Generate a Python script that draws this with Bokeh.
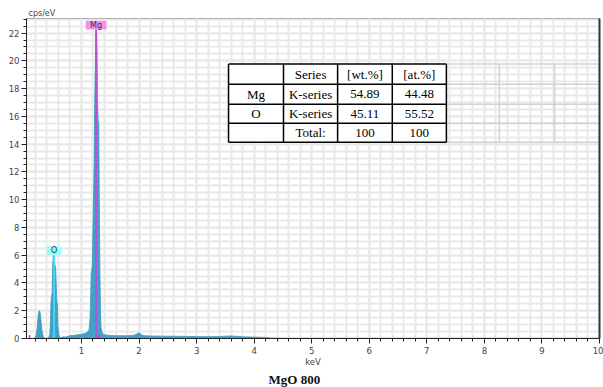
from bokeh.plotting import figure
from bokeh.models import Range1d, SingleIntervalTicker, FixedTicker, LinearAxis, Title, ColumnDataSource
from bokeh.core.properties import value
from bokeh.embed import file_html
from bokeh.resources import INLINE

# ---- data ----
energy_kev = [0.05, 0.10, 0.15, 0.19, 0.21, 0.23, 0.24, 0.25, 0.26, 0.27, 0.28, 0.29, 0.30, 0.31,
              0.32, 0.34, 0.36, 0.40, 0.43, 0.45, 0.46, 0.47, 0.48, 0.49, 0.50, 0.51, 0.52, 0.53,
              0.54, 0.55, 0.56, 0.57, 0.58, 0.59, 0.60, 0.62, 0.64, 0.68, 0.72, 0.76, 0.80, 0.85,
              0.90, 0.95, 1.00, 1.05, 1.10, 1.13, 1.14, 1.15, 1.16, 1.17, 1.18, 1.19, 1.20, 1.21,
              1.22, 1.23, 1.24, 1.25, 1.26, 1.27, 1.28, 1.29, 1.30, 1.31, 1.32, 1.33, 1.34, 1.36,
              1.38, 1.42, 1.50, 1.60, 1.70, 1.80, 1.90, 1.95, 1.98, 2.00, 2.02, 2.05, 2.10, 2.20,
              2.40, 2.60, 2.80, 3.00, 3.20, 3.40, 3.50, 3.60, 3.70, 3.80, 4.00, 4.20, 4.30, 4.50,
              5.00, 6.00, 7.00, 8.00, 9.00, 10.0]
cps_per_ev = [0.0, 0.0, 0.0, 0.02, 0.2, 0.7, 1.2, 1.7, 1.95, 2.0, 1.9, 1.6, 1.1, 0.7,
              0.4, 0.1, 0.03, 0.02, 0.05, 0.3, 1.0, 2.5, 3.1, 3.2, 5.3, 5.9, 6.0, 5.6,
              5.2, 5.2, 4.0, 2.7, 2.5, 1.0, 0.4, 0.1, 0.05, 0.12, 0.1, 0.15, 0.2, 0.22,
              0.25, 0.28, 0.3, 0.35, 0.45, 0.6, 0.9, 1.5, 3.0, 4.8, 4.9, 5.5, 8.0, 10.3,
              12.5, 17.2, 19.5, 22.3, 22.2, 21.0, 17.0, 15.7, 15.5, 10.0, 5.0, 2.0, 0.8, 0.4,
              0.3, 0.25, 0.22, 0.2, 0.2, 0.2, 0.22, 0.3, 0.38, 0.42, 0.35, 0.25, 0.2, 0.18,
              0.17, 0.16, 0.15, 0.14, 0.13, 0.14, 0.17, 0.18, 0.16, 0.12, 0.1, 0.08, 0.03, 0.02,
              0.02, 0.02, 0.02, 0.02, 0.02, 0.02]

peak_names = ["Mg", "O"]
peak_energy = [1.254, 0.525]
peak_height = [22.26, 6.0]
peak_colors = ["#cc44dd", "#40e4f4"]
label_colors = ["#f590f0", "#99ffff"]

marker_energy = [0.10, 1.30]
marker_height = [0.25, 0.25]

table_header = ["", "Series", "[wt.%]", "[at.%]"]
table_row_mg = ["Mg", "K-series", "54.89", "44.48"]
table_row_o = ["O", "K-series", "45.11", "55.52"]
table_row_total = ["", "Total:", "100", "100"]

# ---- figure ----
p = figure(width=603, height=387, output_backend="svg", toolbar_location=None,
           x_range=Range1d(0.045, 10.0), y_range=Range1d(0, 23.05),
           min_border_left=26, min_border_right=4, min_border_top=18, min_border_bottom=49,
           background_fill_color="white", border_fill_color="white")
p.outline_line_color = "#999999"

tick_font = "DejaVu Sans"
p.xaxis.ticker = SingleIntervalTicker(interval=1, num_minor_ticks=5)
p.yaxis.ticker = SingleIntervalTicker(interval=2, num_minor_ticks=4)
for ax in (p.xaxis[0], p.yaxis[0]):
    ax.axis_line_color = "#222222"
    ax.major_tick_line_color = "#222222"
    ax.minor_tick_line_color = "#222222"
    ax.major_tick_out = 5
    ax.major_tick_in = 0
    ax.minor_tick_out = 3
    ax.minor_tick_in = 0
    ax.major_label_text_font = tick_font
    ax.major_label_text_font_size = "8.5px"
    ax.major_label_text_color = "#444444"
p.xaxis.major_label_standoff = 3
p.yaxis.major_label_standoff = 2
p.xaxis.axis_label = "keV"
p.xaxis.axis_label_text_font = tick_font
p.xaxis.axis_label_text_font_size = "8.5px"
p.xaxis.axis_label_text_font_style = "normal"
p.xaxis.axis_label_text_color = "#444444"
p.xaxis.axis_label_standoff = 0

for g in (p.xgrid[0], p.ygrid[0]):
    g.grid_line_color = "#e9e9e9"
    g.grid_line_width = 2
    g.minor_grid_line_color = "#e9e9e9"
    g.minor_grid_line_width = 2

right_axis = LinearAxis(ticker=FixedTicker(ticks=[]), major_tick_line_color=None,
                        minor_tick_line_color=None, axis_line_color="#333333",
                        axis_line_width=2)
p.add_layout(right_axis, "right")

p.add_layout(Title(text="cps/eV", align="left", offset=2, standoff=2,
                   text_font=tick_font, text_font_size="8px", text_font_style="normal",
                   text_color="#444444"), "above")
p.add_layout(Title(text="MgO 800", align="left", offset=242, standoff=0,
                   text_font="Liberation Serif", text_font_size="13px",
                   text_font_style="bold", text_color="#111111"), "below")

# ---- table (annotation drawn over the grid) ----
col_edges = [3.555, 4.51, 5.45, 6.40, 7.34]
row_edges = [19.78, 18.32, 16.88, 15.50, 14.13]
ghost_cols = [8.26, 9.22]
ghost_right = 10.2

p.segment(x0=[col_edges[-1]] * len(row_edges), y0=row_edges,
          x1=[ghost_right] * len(row_edges), y1=row_edges,
          line_color="#d2d2d2", line_width=1.5)
p.segment(x0=ghost_cols, y0=[row_edges[0]] * 2, x1=ghost_cols, y1=[row_edges[-1]] * 2,
          line_color="#d2d2d2", line_width=1.5)

p.quad(left=[col_edges[0]], right=[col_edges[-1]], top=[row_edges[0]], bottom=[row_edges[-1]],
       fill_color="white", line_color=None)
p.segment(x0=[col_edges[0]] * len(row_edges), y0=row_edges,
          x1=[col_edges[-1]] * len(row_edges), y1=row_edges,
          line_color="black", line_width=1.5)
p.segment(x0=col_edges, y0=[row_edges[0]] * len(col_edges),
          x1=col_edges, y1=[row_edges[-1]] * len(col_edges),
          line_color="black", line_width=1.5)

rows = [table_header, table_row_mg, table_row_o, table_row_total]
tx, ty, tt = [], [], []
for r, row in enumerate(rows):
    for c, cell in enumerate(row):
        if not cell:
            continue
        tx.append((col_edges[c] + col_edges[c + 1]) / 2)
        ty.append((row_edges[r] + row_edges[r + 1]) / 2)
        tt.append(cell)
p.text(x=tx, y=ty, text=tt, text_align="center", text_baseline="middle",
       text_font=value("Liberation Serif"), text_font_size="13px", text_color="black")

# ---- spectrum ----
src = ColumnDataSource(dict(x=energy_kev, y=cps_per_ev))
p.varea(x="x", y1=0, y2="y", source=src, fill_color="#40a2c8")
p.line(x="x", y="y", source=src, line_color="#3a98c0", line_width=0.8)

# element marker lines
p.segment(x0=peak_energy, y0=[0, 0], x1=peak_energy, y1=peak_height,
          line_color=peak_colors, line_width=2, line_alpha=0.85)
# small magenta markers on the baseline
p.segment(x0=marker_energy, y0=[0, 0], x1=marker_energy, y1=marker_height,
          line_color="#e020e0", line_width=1.5)

# element labels
box_half_w = [0.18, 0.13]
box_h = 0.62
p.quad(left=[e - w for e, w in zip(peak_energy, box_half_w)],
       right=[e + w for e, w in zip(peak_energy, box_half_w)],
       bottom=peak_height, top=[h + box_h for h in peak_height],
       fill_color=label_colors, line_color=None)
p.text(x=peak_energy, y=[h + box_h / 2 for h in peak_height], text=peak_names,
       text_align="center", text_baseline="middle", text_font=value(tick_font),
       text_font_size="8px", text_color="#333333")

open("out.html", "w").write(file_html(p, INLINE))
